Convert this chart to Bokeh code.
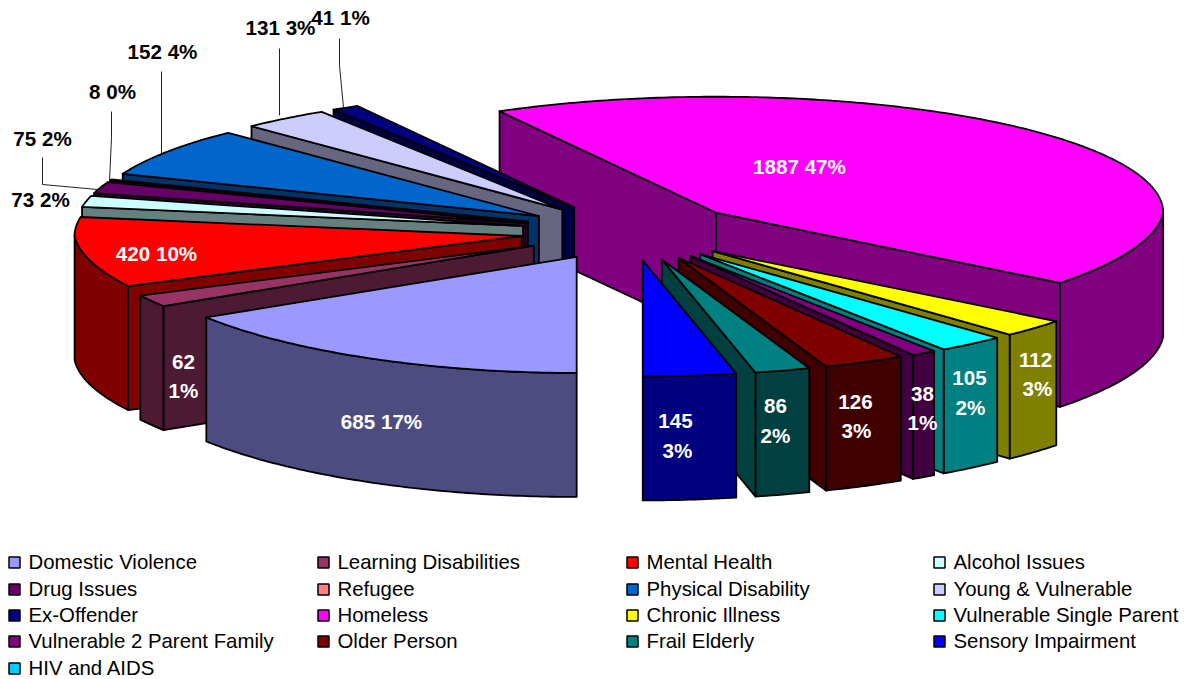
import numpy as np
from bokeh.plotting import figure
from bokeh.embed import file_html
from bokeh.resources import INLINE
from bokeh.core.properties import value

# ---- data ----
NAMES = ["Domestic Violence", "Learning Disabilities", "Mental Health", "Alcohol Issues",
         "Drug Issues", "Refugee", "Physical Disability", "Young & Vulnerable",
         "Ex-Offender", "Homeless", "Chronic Illness", "Vulnerable Single Parent",
         "Vulnerable 2 Parent Family", "Older Person", "Frail Elderly", "Sensory Impairment",
         "HIV and AIDS"]
VALUES = [685, 62, 420, 73, 75, 8, 152, 131, 41, 1887, 112, 105, 38, 126, 86, 145, 0]
PERCENTS = [17, 1, 10, 2, 2, 0, 4, 3, 1, 47, 3, 2, 1, 3, 2, 3, 0]
COLORS = ["#9999FF", "#993366", "#FF0000", "#CCFFFF", "#660066", "#FF8080", "#0066CC", "#CCCCFF",
          "#000080", "#FF00FF", "#FFFF00", "#00FFFF", "#800080", "#800000", "#008080", "#0000FF",
          "#00CCFF"]

# ---- layout of the exploded 3-D pie (screen pixels) ----
CX, CY = 630.0, 231.5
EX, EY = 110.0, 28.6
RX, RY = 447.0, 116.0
PERSP = 0.058
DEPTH = 124.0
EXPLODE = {"Homeless": 1.03}
DRAW_ORDER = [9, 8, 7, 6, 5, 4, 3, 2, 1, 0, 10, 11, 12, 13, 14, 15]
WARP_FROM = [180, 239.48, 244.9, 281.4, 294.9, 308.1, 323, 486.9, 496.6, 505.7, 540]
WARP_TO = [180, 238.6, 244.5, 279.5, 291.4, 316, 331, 487.3, 496.2, 505.2, 540]

# label layout: name index -> lines with centre positions (x, y) in screen pixels
LABEL_LAYOUT = {
    9: [("{v} {p}%", 799, 166, "white")],
    0: [("{v} {p}%", 381, 421, "white")],
    2: [("{v} {p}%", 156, 253, "white")],
    1: [("{v}", 183, 361, "white"), ("{p}%", 183, 390, "white")],
    15: [("{v}", 675, 420, "white"), ("{p}%", 677, 450, "white")],
    14: [("{v}", 775, 405, "white"), ("{p}%", 775, 435, "white")],
    13: [("{v}", 855, 401, "white"), ("{p}%", 856, 430, "white")],
    12: [("{v}", 922, 393, "white"), ("{p}%", 922, 422, "white")],
    11: [("{v}", 969, 377, "white"), ("{p}%", 970, 407, "white")],
    10: [("{v}", 1035, 359, "white"), ("{p}%", 1037, 388, "white")],
    7: [("{v} {p}%", 280, 27, "black")],
    8: [("{v} {p}%", 340, 17, "black")],
    6: [("{v} {p}%", 162, 51, "black")],
    5: [("{v} {p}%", 112, 91, "black")],
    4: [("{v} {p}%", 42, 138, "black")],
    3: [("{v} {p}%", 40, 199, "black")],
}
LEADERS = [
    ([339, 339, 343], [38, 65, 107]),
    ([279, 279], [48, 115]),
    ([161, 161], [71, 155]),
    ([111, 111, 109], [111, 137, 181]),
    ([42, 42, 97], [157, 184, 189]),
]
LEG_COLS = [8, 317, 626, 933]
LEG_ROWS = [562, 589, 615, 641, 668]

FONT = "Liberation Sans"
FS = "20.6px"
LEG_FS = "20.4px"


def darker(hexcolor):
    r, g, b = (int(hexcolor[i:i + 2], 16) for i in (1, 3, 5))
    return "#%02X%02X%02X" % (round(r / 2), round(g / 2), round(b / 2))


total = sum(VALUES)
cum = np.cumsum([0] + VALUES) / total * 360.0 + 180.0
drawn = np.interp(cum, WARP_FROM, WARP_TO)

xs, ys, fills = [], [], []


def add(px, py, c):
    xs.append(list(px))
    ys.append(list(py))
    fills.append(c)


for i in DRAW_ORDER:
    a0, a1 = drawn[i], drawn[i + 1]
    mid = np.radians((a0 + a1) / 2)
    k = EXPLODE.get(NAMES[i], 1.0)
    ax = CX + EX * k * np.sin(mid)
    ay = CY - EY * k * np.cos(mid)
    th = np.radians(np.linspace(a0, a1, max(3, int((a1 - a0) * 1.5))))
    u, v = np.sin(th), np.cos(th)
    ox = ax + RX * u / (1 - PERSP * np.minimum(v, 0))
    oy = ay - RY * v
    wall = darker(COLORS[i])
    # cut faces and the rim are shown when the edge runs right-to-left on a clockwise trip
    for ex, ey in (([ax, ox[0]], [ay, oy[0]]), (ox, oy), ([ox[-1], ax], [oy[-1], ay])):
        ex, ey = np.asarray(ex), np.asarray(ey)
        run = []
        for j in range(len(ex) - 1):
            if ex[j + 1] < ex[j] - 1e-6:
                if not run:
                    run.append(j)
                run.append(j + 1)
            elif run:
                break
        if len(run) > 1:
            sx, sy = ex[run], ey[run]
            add(np.r_[sx, sx[::-1]], np.r_[sy, sy[::-1] + DEPTH], wall)
    add(np.r_[ax, ox], np.r_[ay, oy], COLORS[i])

p = figure(width=1185, height=679, x_range=(0, 1185), y_range=(679, 0),
           output_backend="svg", toolbar_location=None, min_border=0)
p.axis.visible = False
p.grid.visible = False
p.outline_line_color = None
p.patches(xs, ys, fill_color=fills, line_color="black", line_width=1.8, line_join="round")

for lx, ly in LEADERS:
    p.line(lx, ly, line_color="#222222", line_width=1)

tx, ty, tt, tc = [], [], [], []
for i, lines in LABEL_LAYOUT.items():
    for fmt, x, y, c in lines:
        tx.append(x); ty.append(y); tc.append(c)
        tt.append(fmt.format(v=VALUES[i], p=PERCENTS[i]))
p.text(tx, ty, text=tt, text_color=tc, text_font=value(FONT), text_font_style="bold",
       text_font_size=FS, text_align="center", text_baseline="middle")

lx = [LEG_COLS[i % 4] for i in range(len(NAMES))]
ly = [LEG_ROWS[i // 4] for i in range(len(NAMES))]
p.rect([x + 6 for x in lx], ly, width=11, height=11, fill_color=COLORS, line_color="black", line_width=1.5)
p.text([x + 20 for x in lx], [y - 1 for y in ly], text=NAMES, text_color="black", text_font=value(FONT),
       text_font_size=LEG_FS, text_align="left", text_baseline="middle")

open("out.html", "w").write(file_html(p, INLINE))
